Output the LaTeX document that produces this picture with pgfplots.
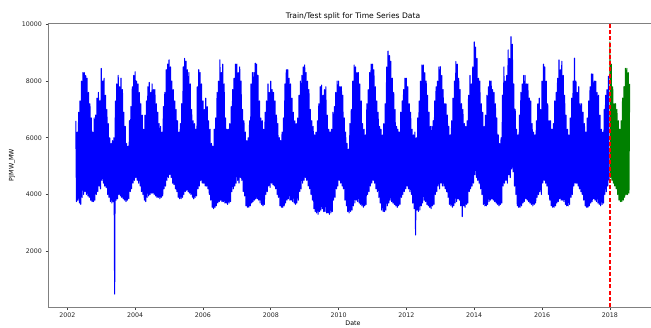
\documentclass[border=0pt]{standalone}
\usepackage{pgfplots}
\pgfplotsset{compat=1.18}
\usepackage{fontspec}
\setmainfont{DejaVu Sans}
\definecolor{mplred}{RGB}{255,0,0}
\definecolor{mplgreen}{RGB}{0,128,0}
\definecolor{mplblue}{RGB}{0,0,255}
\begin{document}
\begin{tikzpicture}
\useasboundingbox (-48pt,-20pt) rectangle (603pt,307pt);
\begin{axis}[
  at={(0pt,0pt)}, anchor=south west,
  scale only axis, width=610pt, height=284pt,
  xmin=2001.43, xmax=2019.42, ymin=30, ymax=10050,
  axis x line*=box, axis y line*=left,
  xtick={2002,2004,2006,2008,2010,2012,2014,2016,2018},
  ytick={2000,4000,6000,8000,10000},
  /pgf/number format/1000 sep={},
  /pgf/number format/assume math mode=true,
  scaled x ticks=false, scaled y ticks=false,
  tick align=outside, xtick pos=left, ytick pos=left,
  major tick length=2.5pt,
  tick style={black!75, line width=0.6pt},
  axis line style={-, draw=black!50, line width=0.9pt},
  ticklabel style={font=\fontsize{6.3}{7}\selectfont, text=black!85},
  every axis title shift=0pt,
  title={Train/Test split for Time Series Data},
  title style={font=\fontsize{7.6}{9}\selectfont, at={(axis description cs:0.5,1)}, anchor=base, yshift=5pt},
  xlabel={Date}, ylabel={PJMW\_MW},
  xlabel style={font=\fontsize{6.3}{7}\selectfont, at={(axis description cs:0.5,0)}, anchor=north, yshift=-14pt, inner sep=0pt},
  ylabel style={font=\fontsize{6.3}{7}\selectfont, at={(axis description cs:-0.059,0.5)}, anchor=center},
]
\addplot[draw=mplblue, line width=1.1pt, line join=round, no markers] table[row sep=\\, header=false, x expr={2002.25+\coordindex/48}, y index=0] {
6600\\ 3750\\ 6200\\ 3800\\
6900\\ 3700\\ 7300\\ 3650\\
8000\\ 3900\\ 8300\\ 4000\\
8300\\ 4100\\ 8200\\ 4000\\
8100\\ 3950\\ 7600\\ 3900\\
7200\\ 3800\\ 6700\\ 3750\\
6200\\ 3750\\ 6700\\ 3800\\
6800\\ 4000\\ 7400\\ 4100\\
7600\\ 4300\\ 7300\\ 4200\\
8450\\ 4500\\ 8000\\ 4400\\
8100\\ 4300\\ 7500\\ 4250\\
7000\\ 4000\\ 6500\\ 3900\\
6000\\ 3750\\ 5800\\ 3700\\
5900\\ 3750\\ 6000\\ 487\\
7300\\ 3800\\ 7900\\ 3850\\
8200\\ 4000\\ 7800\\ 3950\\
8100\\ 3900\\ 7700\\ 3850\\
6900\\ 3800\\ 6400\\ 3750\\
5800\\ 3800\\ 5700\\ 3850\\
6600\\ 4100\\ 7100\\ 4200\\
7800\\ 4400\\ 8200\\ 4500\\
8330\\ 4600\\ 8000\\ 4500\\
7900\\ 4400\\ 7600\\ 4300\\
7200\\ 4100\\ 6800\\ 4000\\
6300\\ 3800\\ 6800\\ 3750\\
7300\\ 3900\\ 7800\\ 3950\\
7950\\ 4000\\ 7600\\ 4050\\
7900\\ 4050\\ 7700\\ 4000\\
7700\\ 3950\\ 7200\\ 3900\\
6900\\ 3900\\ 6500\\ 3850\\
6400\\ 3900\\ 6200\\ 3950\\
7100\\ 4200\\ 7600\\ 4300\\
8400\\ 4500\\ 8600\\ 4600\\
8750\\ 4700\\ 8500\\ 4600\\
8000\\ 4400\\ 7700\\ 4350\\
7300\\ 4200\\ 7000\\ 4100\\
6600\\ 3900\\ 6200\\ 3850\\
6500\\ 3850\\ 7200\\ 3900\\
8500\\ 4000\\ 8800\\ 4100\\
8700\\ 4150\\ 8400\\ 4100\\
8300\\ 4050\\ 7900\\ 4000\\
7000\\ 3900\\ 6600\\ 3850\\
6500\\ 3900\\ 6300\\ 3950\\
7800\\ 4200\\ 8400\\ 4300\\
8300\\ 4500\\ 7900\\ 4400\\
7300\\ 4400\\ 7000\\ 4300\\
7400\\ 4300\\ 7100\\ 4200\\
6600\\ 4000\\ 6300\\ 3800\\
5800\\ 3550\\ 5700\\ 3500\\
6300\\ 3550\\ 6700\\ 3600\\
7600\\ 3700\\ 8000\\ 3750\\
8750\\ 3800\\ 8300\\ 3750\\
8600\\ 3750\\ 7900\\ 3700\\
6700\\ 3700\\ 6300\\ 3650\\
6300\\ 3700\\ 6500\\ 3750\\
7100\\ 4100\\ 7700\\ 4200\\
8100\\ 4300\\ 8600\\ 4400\\
8600\\ 4500\\ 8300\\ 4400\\
8500\\ 4600\\ 8000\\ 4500\\
7000\\ 4100\\ 6600\\ 3950\\
6200\\ 3600\\ 5900\\ 3550\\
6000\\ 3550\\ 6600\\ 3600\\
7900\\ 3700\\ 8300\\ 3750\\
8300\\ 3800\\ 8630\\ 3850\\
8600\\ 3850\\ 8200\\ 3800\\
7300\\ 3700\\ 6700\\ 3650\\
6600\\ 3600\\ 6300\\ 3650\\
6900\\ 4000\\ 7300\\ 4100\\
7900\\ 4300\\ 7600\\ 4250\\
8000\\ 4400\\ 7700\\ 4350\\
7600\\ 4300\\ 7300\\ 4200\\
6800\\ 4000\\ 6500\\ 3900\\
6000\\ 3600\\ 5900\\ 3550\\
6200\\ 3550\\ 6700\\ 3600\\
7900\\ 3700\\ 8400\\ 3800\\
8400\\ 3850\\ 8100\\ 3800\\
7900\\ 3800\\ 7400\\ 3750\\
6900\\ 3700\\ 6600\\ 3650\\
6500\\ 3700\\ 6700\\ 3800\\
7500\\ 4100\\ 8000\\ 4200\\
8200\\ 4400\\ 8500\\ 4500\\
8570\\ 4600\\ 8300\\ 4500\\
8000\\ 4300\\ 7700\\ 4200\\
7000\\ 4000\\ 6600\\ 3800\\
6400\\ 3500\\ 6100\\ 3400\\
6200\\ 3350\\ 6600\\ 3300\\
7200\\ 3400\\ 7800\\ 3450\\
7860\\ 3500\\ 7500\\ 3400\\
7700\\ 3400\\ 7800\\ 3350\\
6800\\ 3350\\ 6300\\ 3300\\
6200\\ 3350\\ 6300\\ 3400\\
6900\\ 3800\\ 7100\\ 3900\\
7600\\ 4200\\ 8000\\ 4300\\
8000\\ 4500\\ 7800\\ 4400\\
7800\\ 4300\\ 7500\\ 4200\\
6700\\ 3800\\ 6200\\ 3600\\
5800\\ 3400\\ 5600\\ 3350\\
6500\\ 3400\\ 7000\\ 3450\\
8000\\ 3600\\ 8570\\ 3700\\
8500\\ 3800\\ 8300\\ 3750\\
8300\\ 3700\\ 7900\\ 3650\\
7300\\ 3600\\ 6500\\ 3550\\
6300\\ 3600\\ 6100\\ 3650\\
7200\\ 4000\\ 7700\\ 4100\\
8300\\ 4300\\ 8600\\ 4400\\
8600\\ 4500\\ 8400\\ 4400\\
7800\\ 4200\\ 7300\\ 4100\\
6900\\ 3900\\ 6400\\ 3700\\
6300\\ 3450\\ 6100\\ 3400\\
6500\\ 3400\\ 7200\\ 3450\\
8500\\ 3600\\ 9060\\ 3700\\
8900\\ 3800\\ 8700\\ 3750\\
8100\\ 3700\\ 7600\\ 3650\\
7000\\ 3600\\ 6400\\ 3550\\
6300\\ 3600\\ 6200\\ 3650\\
6900\\ 3900\\ 7300\\ 4000\\
7700\\ 4100\\ 8100\\ 4200\\
8100\\ 4300\\ 7800\\ 4200\\
7200\\ 4100\\ 6900\\ 4000\\
6300\\ 3700\\ 6100\\ 3500\\
6200\\ 2570\\ 6000\\ 3450\\
6700\\ 3400\\ 7300\\ 3450\\
8000\\ 3600\\ 8570\\ 3700\\
8570\\ 3800\\ 8300\\ 3750\\
8000\\ 3650\\ 7500\\ 3600\\
6900\\ 3550\\ 6400\\ 3500\\
6400\\ 3600\\ 6600\\ 3650\\
7300\\ 4000\\ 7800\\ 4100\\
8000\\ 4300\\ 8500\\ 4200\\
8510\\ 4400\\ 8200\\ 4300\\
7700\\ 4300\\ 7200\\ 4200\\
7200\\ 4100\\ 6800\\ 3900\\
6400\\ 3650\\ 6100\\ 3600\\
6600\\ 3550\\ 7400\\ 3600\\
8000\\ 3700\\ 8690\\ 3750\\
8600\\ 3850\\ 8100\\ 3800\\
7700\\ 3600\\ 7200\\ 3220\\
7000\\ 3600\\ 6500\\ 3550\\
6400\\ 3650\\ 6600\\ 3700\\
7500\\ 4100\\ 8200\\ 4200\\
7900\\ 4300\\ 8500\\ 4400\\
9380\\ 4700\\ 9200\\ 4600\\
8800\\ 4500\\ 8100\\ 4400\\
8000\\ 4200\\ 7200\\ 4000\\
6900\\ 3650\\ 6400\\ 3600\\
6800\\ 3600\\ 7500\\ 3650\\
7800\\ 3750\\ 8010\\ 3800\\
8000\\ 3850\\ 7700\\ 3800\\
7600\\ 3750\\ 7200\\ 3700\\
6700\\ 3650\\ 6100\\ 3600\\
5800\\ 3650\\ 6000\\ 3700\\
7500\\ 4300\\ 8500\\ 4400\\
8000\\ 4500\\ 8200\\ 4400\\
9100\\ 4700\\ 8800\\ 4600\\
9570\\ 4900\\ 9300\\ 4800\\
7900\\ 4300\\ 7000\\ 4000\\
6300\\ 3600\\ 6100\\ 3550\\
6800\\ 3550\\ 7600\\ 3600\\
7900\\ 3700\\ 8200\\ 3750\\
8200\\ 3850\\ 7900\\ 3800\\
7900\\ 3750\\ 7400\\ 3700\\
7300\\ 3650\\ 6500\\ 3600\\
6200\\ 3650\\ 6100\\ 3700\\
6600\\ 3900\\ 7200\\ 4000\\
7400\\ 4100\\ 7000\\ 4000\\
8000\\ 4400\\ 8600\\ 4500\\
8500\\ 4400\\ 8000\\ 4300\\
7200\\ 4000\\ 6600\\ 3800\\
6600\\ 3600\\ 6300\\ 3550\\
6500\\ 3550\\ 7300\\ 3600\\
7600\\ 3700\\ 8100\\ 3750\\
8750\\ 3850\\ 8400\\ 3800\\
8700\\ 3800\\ 8200\\ 3750\\
7500\\ 3650\\ 6800\\ 3600\\
6300\\ 3600\\ 6100\\ 3650\\
6700\\ 3900\\ 7400\\ 4000\\
8000\\ 4300\\ 8810\\ 4400\\
8000\\ 4400\\ 7600\\ 4300\\
7800\\ 4200\\ 7200\\ 4100\\
7200\\ 4000\\ 6900\\ 3800\\
6500\\ 3600\\ 6200\\ 3550\\
6700\\ 3550\\ 7300\\ 3600\\
7800\\ 3700\\ 8250\\ 3750\\
8250\\ 3850\\ 8000\\ 3800\\
8000\\ 3750\\ 7600\\ 3700\\
7500\\ 3650\\ 6800\\ 3600\\
6300\\ 3650\\ 6200\\ 3700\\
7000\\ 4000\\ 7500\\ 4100\\
7700\\ 4300\\ 8170\\ 4500\\
};
\addplot[draw=mplgreen, line width=1.1pt, line join=round, no markers] table[row sep=\\, header=false, x expr={2018+\coordindex/48}, y index=0] {
9390\\ 4600\\ 8600\\ 4500\\
7800\\ 4400\\ 7200\\ 4300\\
7200\\ 4200\\ 7000\\ 4000\\
6600\\ 3800\\ 6300\\ 3750\\
6600\\ 3750\\ 7400\\ 3800\\
7800\\ 3900\\ 8450\\ 4000\\
8450\\ 4000\\ 8300\\ 4050\\
7900\\
};
\addplot[draw=mplred, color=mplred, line width=1.5pt, dash pattern=on 4pt off 2.2pt, no markers] coordinates {(2018,30) (2018,10050)};
\end{axis}
\end{tikzpicture}
\end{document}
